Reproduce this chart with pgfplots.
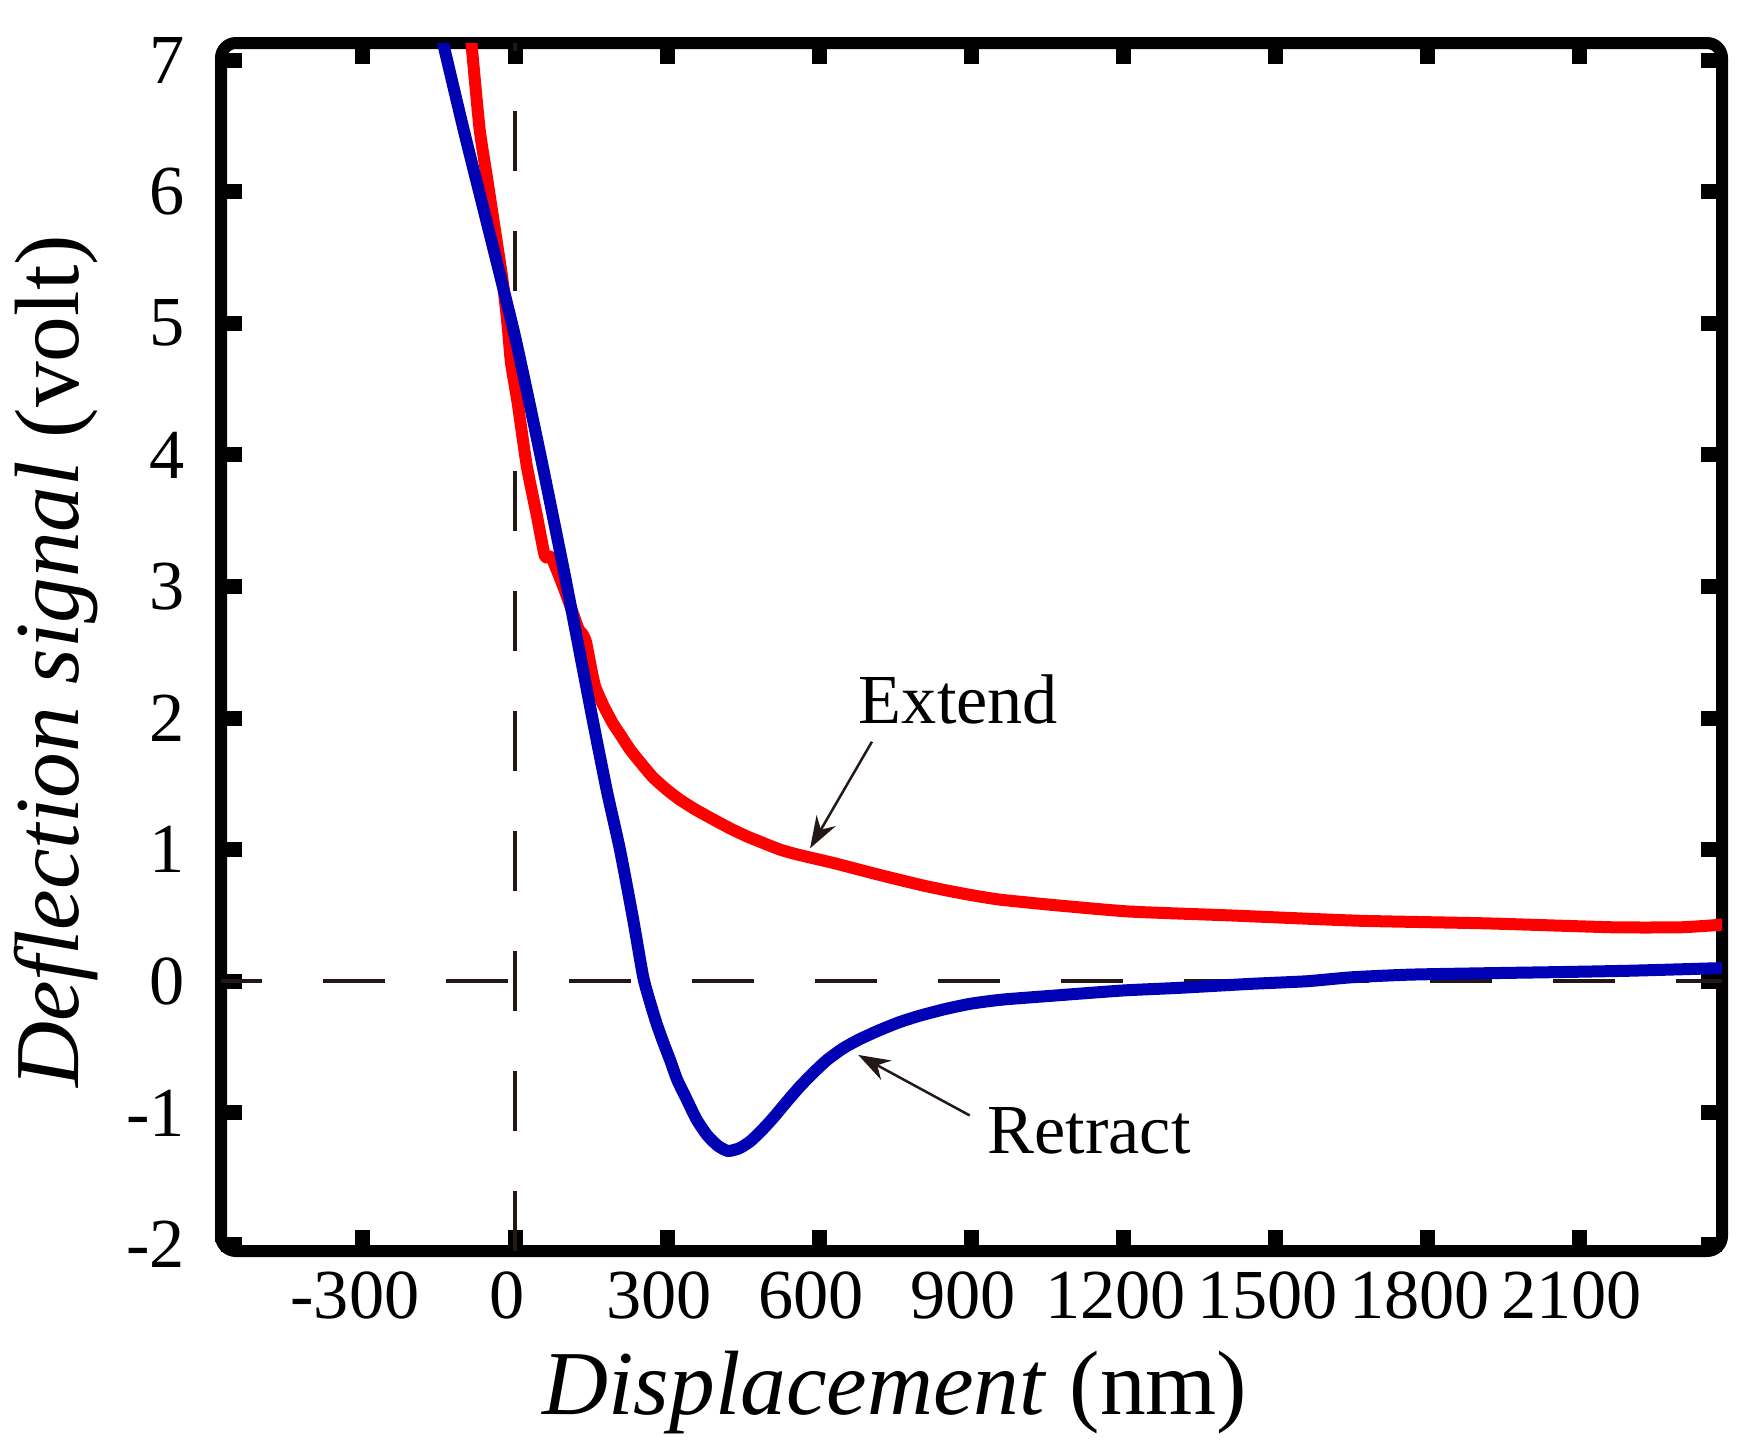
\documentclass[border=0pt]{standalone}
\usepackage{fontspec}
\setmainfont{Liberation Serif}
\usepackage{pgfplots}
\usepackage{pgfplotstable}
\pgfplotsset{compat=1.18}
\usetikzlibrary{arrows.meta}
\definecolor{myred}{RGB}{255,0,0}
\definecolor{myblue}{RGB}{0,0,180}
\definecolor{dashc}{RGB}{35,24,21}

\pgfplotstableread{
x y
-86 7.13
-70 6.48
-55 6.10
-40 5.72
-25 5.34
-15 5.00
-8 4.70
5 4.40
23 3.92
43 3.54
59 3.23
72 3.22
100 2.95
125 2.68
133 2.64
140 2.58
148 2.42
158 2.24
175 2.09
193 1.96
210 1.86
227 1.76
250 1.65
272 1.55
298 1.46
325 1.38
358 1.30
391 1.23
425 1.16
458 1.10
490 1.05
523 1.00
555 0.965
588 0.935
627 0.90
667 0.86
712 0.815
759 0.77
808 0.725
858 0.685
907 0.65
957 0.62
1060 0.58
1211 0.53
1412 0.50
1663 0.46
1915 0.44
2166 0.41
2300 0.41
2381 0.43
}\extendtable

\pgfplotstableread{
x y
-142 7.13
-100 6.45
-50 5.68
0 4.90
50 4.00
100 3.05
150 2.05
181 1.45
207 1.00
233 0.47
253 0.03
268 -0.18
280 -0.33
293 -0.47
306 -0.60
320 -0.75
339 -0.90
358 -1.05
379 -1.17
400 -1.25
420 -1.29
442 -1.27
463 -1.22
485 -1.14
509 -1.04
535 -0.92
562 -0.80
590 -0.69
615 -0.60
647 -0.51
680 -0.44
720 -0.37
759 -0.31
800 -0.26
850 -0.21
900 -0.17
960 -0.14
1060 -0.11
1200 -0.07
1311 -0.05
1450 -0.02
1562 0.00
1650 0.03
1763 0.05
1900 0.06
2065 0.07
2200 0.08
2381 0.10
}\retracttable

\begin{document}
\begin{tikzpicture}
\path[use as bounding box] (0,0) rectangle (175mm,144mm);
\begin{axis}[
  at={(22.1mm,18.9mm)}, anchor=south west,
  scale only axis, width=150.1mm, height=120.8mm,
  xmin=-580, xmax=2381, ymin=-2.05, ymax=7.13,
  xtick={-300,0,...,2100}, ytick={-2,-1,...,7},
  tick align=inside, major tick length=2.1mm,
  tick style={line width=1.5mm, black},
  axis line style={line width=1.2mm, rounded corners=1.5mm},
  /pgf/number format/assume math mode=true,
  /pgf/number format/1000 sep={},
  ticklabel style={font=\fontsize{20}{24}\selectfont},
  xticklabel style={yshift=-0.8mm, xshift=-0.8mm},
  yticklabel style={xshift=-2.4mm},
  xlabel={\textit{Displacement} (nm)},
  ylabel={\textit{Deflection signal} (volt)},
  label style={font=\fontsize{26}{30}\selectfont},
  xlabel style={at={(axis description cs:0.449,-0.117)}, anchor=center},
  ylabel style={at={(axis description cs:-0.110,0.488)}, anchor=center},
]
\addplot[dashc, line width=0.4mm, dash pattern=on 6.2mm off 6.1mm, dash phase=2.1mm] coordinates {(-580,0) (2381,0)};
\addplot[dashc, line width=0.4mm, dash pattern=on 6mm off 6mm] coordinates {(0,-2.05) (0,7.13)};
\addplot[myred, line width=1.2mm, line cap=round, line join=round, smooth, tension=0.3] table {\extendtable};
\addplot[myblue, line width=1.2mm, line cap=round, line join=round, smooth, tension=0.35] table {\retracttable};
\node[anchor=base west, inner sep=0, font=\fontsize{20}{24}\selectfont] at (axis cs:677,1.96) {Extend};
\node[anchor=base west, inner sep=0, font=\fontsize{20}{24}\selectfont] at (axis cs:931,-1.31) {Retract};
\draw[dashc, line width=0.25mm, -{Stealth[length=3.2mm,width=2.2mm]}] (axis cs:704,1.82) -- (axis cs:582,1.01);
\draw[dashc, line width=0.25mm, -{Stealth[length=3.2mm,width=2.2mm]}] (axis cs:897,-1.02) -- (axis cs:677,-0.56);
\end{axis}
\end{tikzpicture}
\end{document}
